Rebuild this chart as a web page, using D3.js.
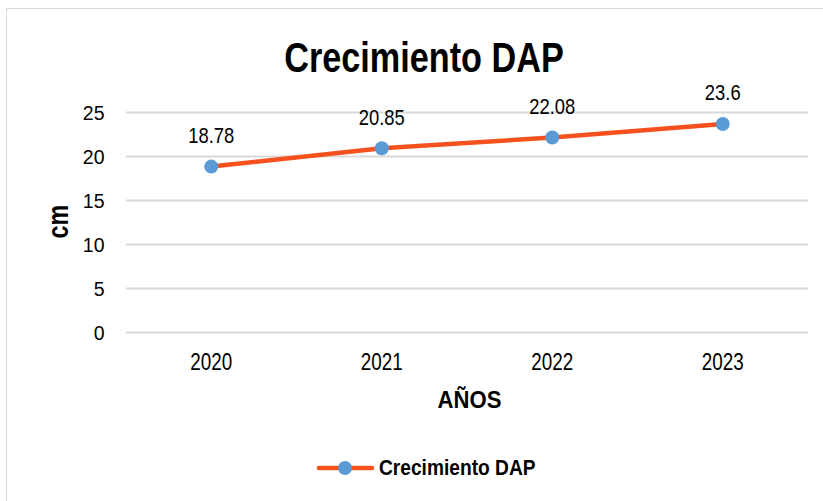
<!DOCTYPE html>
<html>
<head>
<meta charset="utf-8">
<script src="https://cdn.jsdelivr.net/npm/d3@7"></script>
<style>
  body { margin: 0; background: #fff; }
  svg text { font-family: "Liberation Sans", Arial, sans-serif; fill: #000; }
</style>
</head>
<body>
<svg id="chart" width="823" height="501"></svg>
<script>
// datos del gráfico
var years = ["2020", "2021", "2022", "2023"];
var dap = [18.78, 20.85, 22.08, 23.6];
var yTicks = [0, 5, 10, 15, 20, 25];

var svg = d3.select("#chart");
var narrow = 0.82; // simula Arial Narrow

// texto "estrecho": se escala en x alrededor del punto de anclaje
function put (sel, px, py, s) {
  return sel.attr("transform", "translate(" + px + "," + py + ") scale(" + (s || narrow) + ",1)");
}

// borde del área del gráfico
svg.append("rect")
  .attr("x", 6.5).attr("y", 8.5)
  .attr("width", 830).attr("height", 510)
  .attr("fill", "#fff")
  .attr("stroke", "#d9d9d9")
  .attr("stroke-width", 1);

var plotL = 126, plotR = 808, plotT = 111.7, plotB = 332.3;

var x = d3.scaleBand().domain(years).range([plotL, plotR]);
var y = d3.scaleLinear().domain([0, 25]).range([plotB, plotT]);

// líneas de cuadrícula
svg.append("g")
  .selectAll("line")
  .data(yTicks)
  .join("line")
  .attr("x1", plotL).attr("x2", plotR)
  .attr("y1", function (d) { return Math.round(y(d)) + 0.5; })
  .attr("y2", function (d) { return Math.round(y(d)) + 0.5; })
  .attr("stroke", "#d9d9d9")
  .attr("stroke-width", 2);

// etiquetas del eje y
svg.append("g")
  .selectAll("text")
  .data(yTicks)
  .join("text")
  .each(function (d) { put(d3.select(this), 104.5, y(d) + 8, 0.93); })
  .attr("text-anchor", "end")
  .style("font-size", "21px")
  .text(function (d) { return d; });

// etiquetas del eje x
svg.append("g")
  .selectAll("text")
  .data(years)
  .join("text")
  .each(function (d) { put(d3.select(this), x(d) + x.bandwidth() / 2, 370); })
  .attr("text-anchor", "middle")
  .style("font-size", "23px")
  .text(function (d) { return d; });

// título
put(svg.append("text"), 424, 72, 0.815)
  .attr("text-anchor", "middle")
  .style("font-size", "42px").style("font-weight", "bold")
  .text("Crecimiento DAP");

// títulos de ejes
svg.append("text")
  .attr("transform", "translate(67.5,221.7) rotate(-90) scale(0.8,1)")
  .attr("text-anchor", "middle")
  .style("font-size", "29px").style("font-weight", "bold")
  .text("cm");

put(svg.append("text"), 469.5, 408.3, 0.96)
  .attr("text-anchor", "middle")
  .style("font-size", "23px").style("font-weight", "bold")
  .text("AÑOS");

// serie
var pts = years.map(function (yr, i) { return [x(yr) + x.bandwidth() / 2, y(dap[i])]; });

svg.append("path")
  .attr("d", d3.line()(pts))
  .attr("fill", "none")
  .attr("stroke", "#f4511e")
  .attr("stroke-width", 4.5)
  .attr("stroke-linecap", "round");

svg.append("g")
  .selectAll("circle")
  .data(pts)
  .join("circle")
  .attr("cx", function (d) { return d[0]; })
  .attr("cy", function (d) { return d[1]; })
  .attr("r", 7)
  .attr("fill", "#5b9bd5");

// etiquetas de datos
svg.append("g")
  .selectAll("text")
  .data(dap)
  .join("text")
  .each(function (d, i) { put(d3.select(this), pts[i][0], pts[i][1] - 23.6, 0.855); })
  .attr("text-anchor", "middle")
  .style("font-size", "21.5px")
  .text(function (d) { return d; });

// leyenda
var lg = svg.append("g");
lg.append("line")
  .attr("x1", 319).attr("x2", 372)
  .attr("y1", 468).attr("y2", 468)
  .attr("stroke", "#f4511e").attr("stroke-width", 4.5)
  .attr("stroke-linecap", "round");
lg.append("circle")
  .attr("cx", 345).attr("cy", 468).attr("r", 7)
  .attr("fill", "#5b9bd5");
put(lg.append("text"), 379, 475.3, 0.86)
  .style("font-size", "22.3px").style("font-weight", "bold")
  .text("Crecimiento DAP");
</script>
</body>
</html>
